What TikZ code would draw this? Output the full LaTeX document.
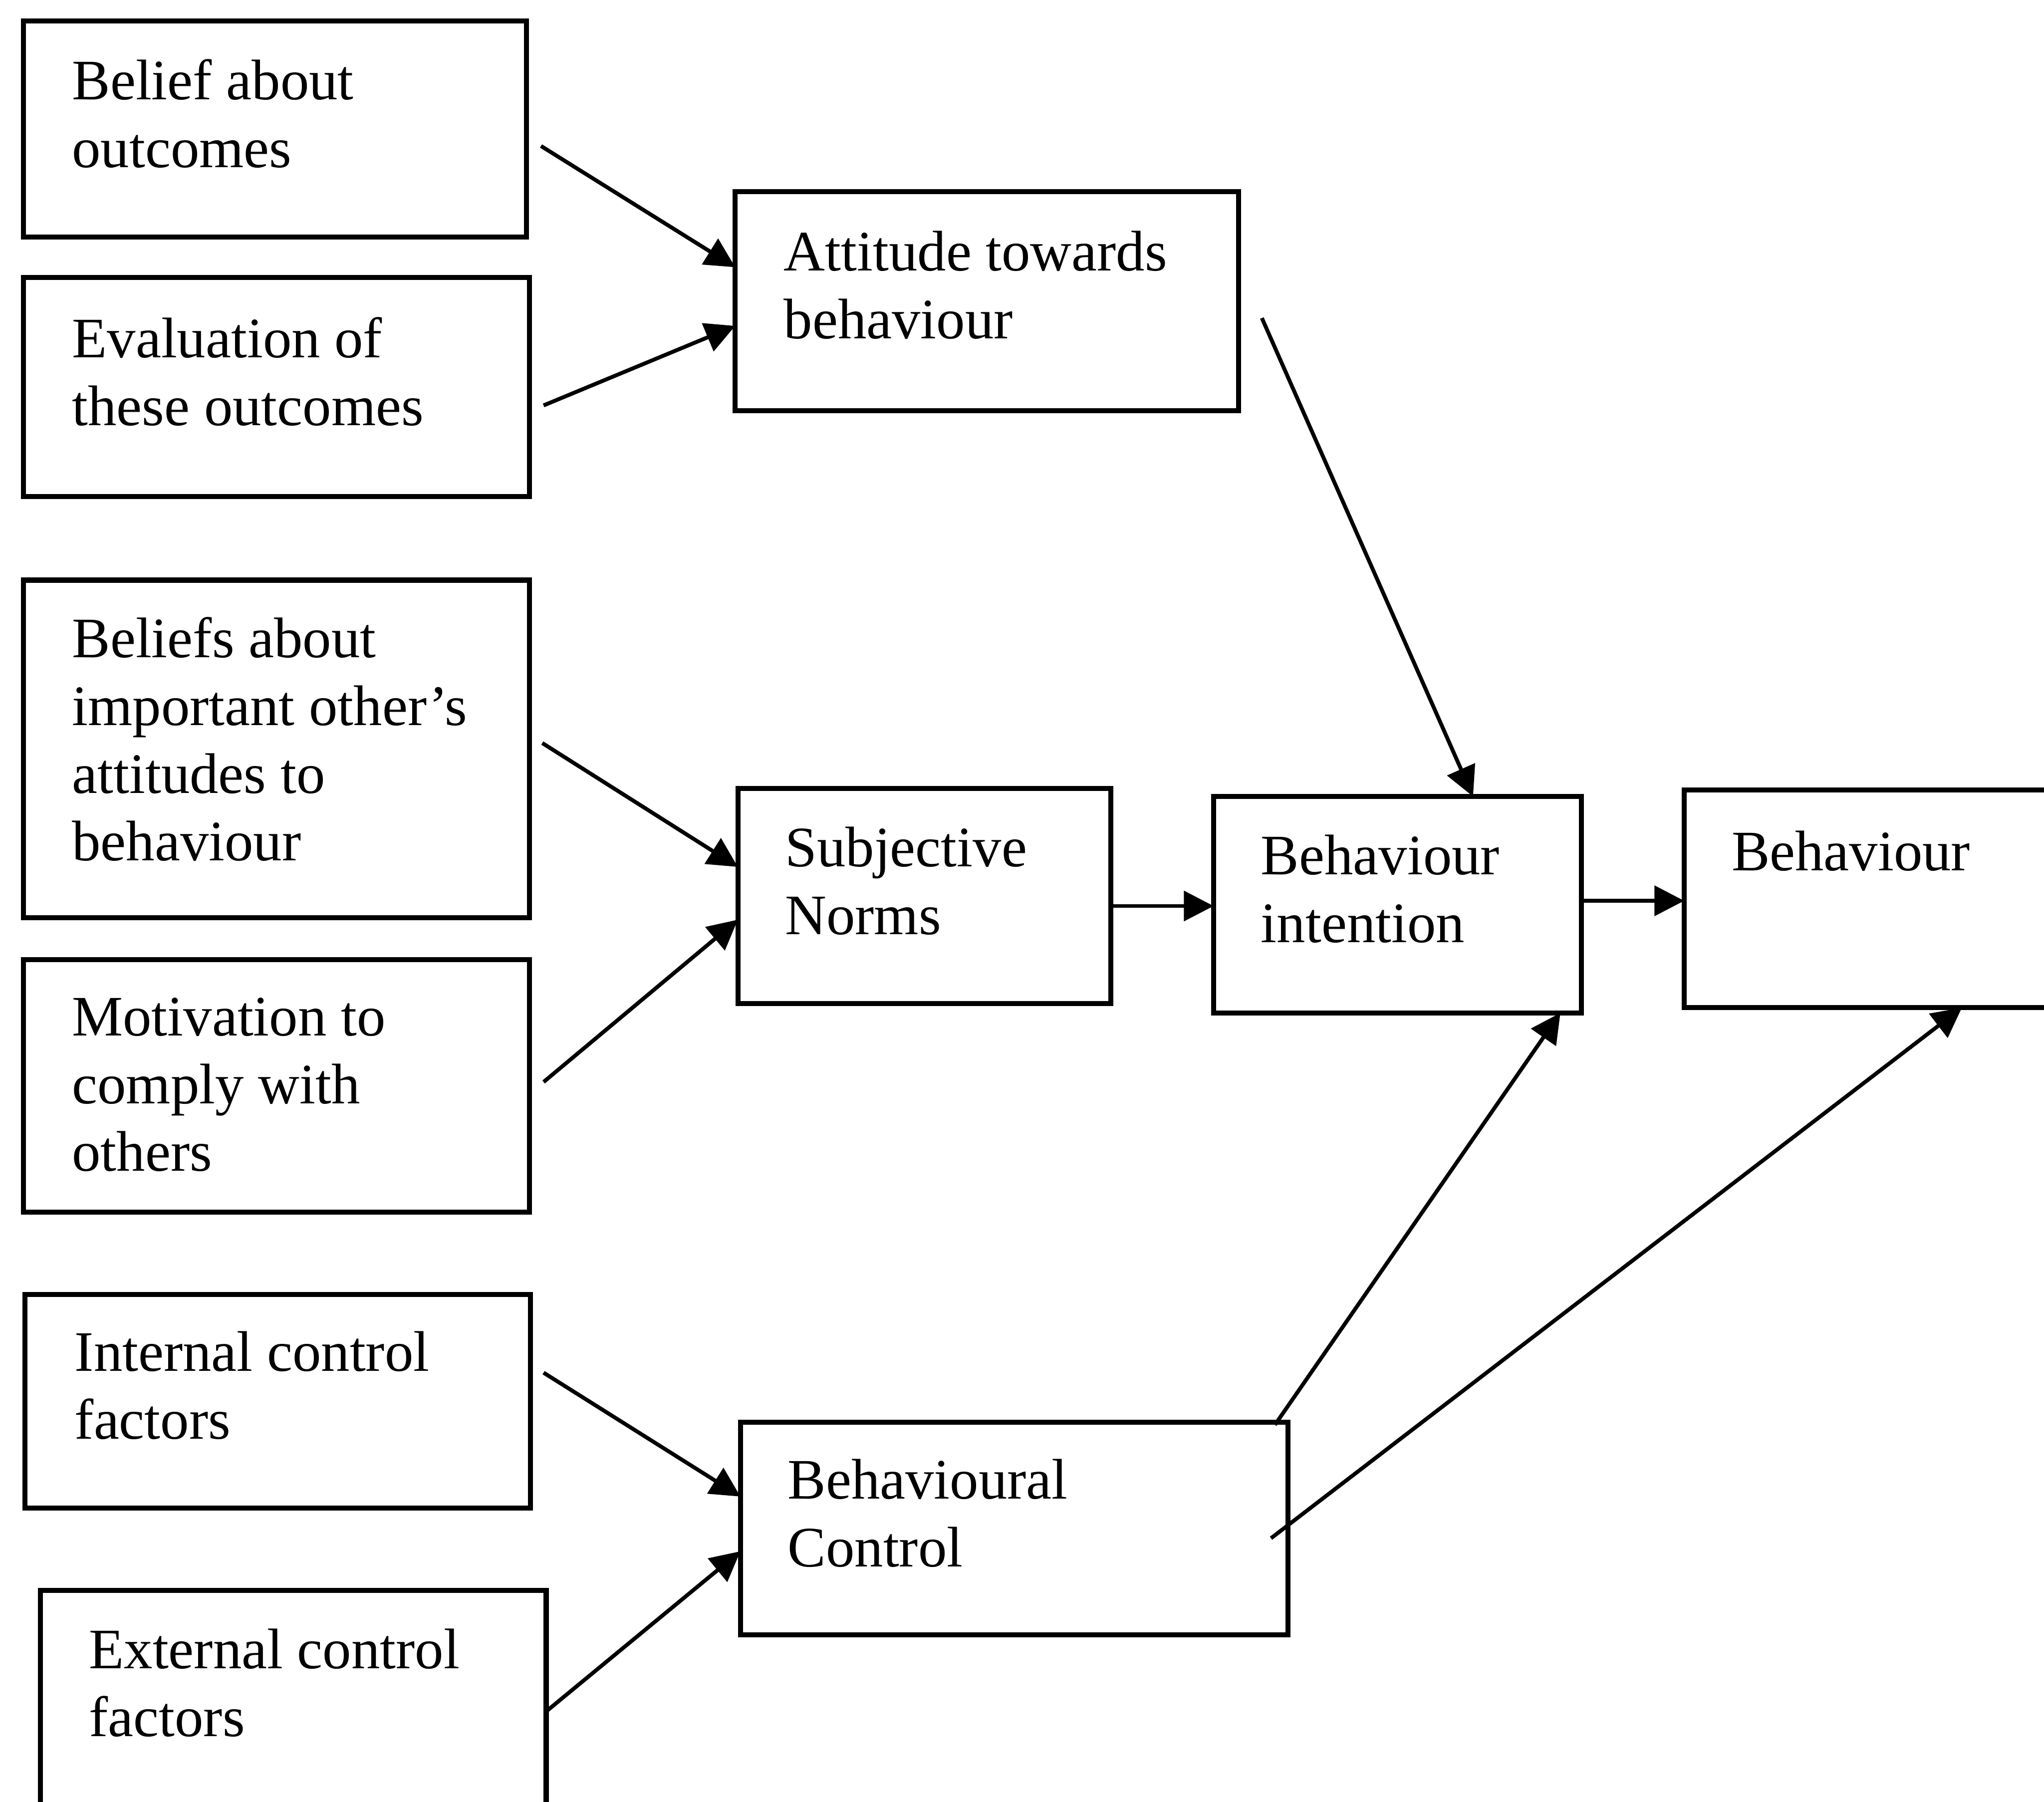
\documentclass[tikz,border=0pt]{standalone}
\usepackage{fontspec}
\setmainfont{Liberation Serif}
\usetikzlibrary{arrows.meta,calc,fit}
\begin{document}
\begin{tikzpicture}[x=0.02cm,y=-0.02cm,
  box/.style={draw, line width=2.2pt, inner sep=0pt, outer sep=0pt},
  txt/.style={anchor=north west, inner sep=0pt, align=left, font=\fontsize{25}{29.6}\selectfont},
  arr/.style={line width=1.7pt, -{Triangle[length=13pt,width=13pt]}}]
\useasboundingbox (0,0) rectangle (1568,1382);
\clip (0,0) rectangle (1568,1382);
\fill[white] (0,0) rectangle (1568,1382);
% boxes
\node[box, fit={(18,16) (404,182)}] (b1) {};
\node[box, fit={(18,213) (406,381)}] (b2) {};
\node[box, fit={(18,445) (406,704)}] (b3) {};
\node[box, fit={(18,736) (406,930)}] (b4) {};
\node[box, fit={(19,993) (407,1157)}] (b5) {};
\node[box, fit={(31,1220) (419,1440)}] (b6) {};
\node[box, fit={(564,147) (950,315)}] (a) {};
\node[box, fit={(566,605) (852,770)}] (s) {};
\node[box, fit={(568,1091) (988,1254)}] (c) {};
\node[box, fit={(931,611) (1213,777)}] (i) {};
\node[box, fit={(1292,606) (1640,773)}] (bh) {};
% texts
\node[txt] (t1) at (55,45) {Belief about\\outcomes};
\node[txt] (t2) at (55,243) {Evaluation of\\these outcomes};
\node[txt] (t3) at (55,473) {Beliefs about\\important other’s\\attitudes to\\behaviour};
\node[txt] (t4) at (55,765) {Motivation to\\comply with\\others};
\node[txt] (t5) at (57,1021) {Internal control\\factors};
\node[txt] (t6) at (68,1249) {External control\\factors};
\node[txt] (ta) at (601,177) {Attitude towards\\behaviour};
\node[txt] (ts) at (602,634) {Subjective\\Norms};
\node[txt] (tc) at (604,1119) {Behavioural\\Control};
\node[txt] (ti) at (967,640) {Behaviour\\intention};
\node[txt] (tb) at (1328,637) {Behaviour};
% connectors
\draw[arr] ($(b1.east)+(11,13)$) -- ($(a.west)+(0,-26)$);
\draw[arr] ($(b2.east)+(11,14)$) -- ($(a.west)+(0,19)$);
\draw[arr] ($(b3.east)+(10,-4.5)$) -- ($(s.west)+(0,-22.5)$);
\draw[arr] ($(b4.east)+(11,-3)$) -- ($(s.west)+(0,18)$);
\draw[arr] ($(b5.east)+(10,-22)$) -- ($(c.west)+(0,-24.5)$);
\draw[arr] ($(b6.north east)+(1,92)$) -- ($(c.west)+(0,17.5)$);
\draw[arr] ($(a.east)+(18,13)$) -- ($(i.north)+(58,0)$);
\draw[arr] ($(s.east)+(2,7.5)$) -- ($(i.west)+(0,1)$);
\draw[arr] ($(i.east)+(2,-3)$) -- ($(bh.west)+(0,1.5)$);
\draw[arr] ($(c.north east)+(-10,2)$) -- ($(i.south)+(125,0)$);
\draw[arr] ($(c.east)+(-13,7.5)$) -- ($(bh.south)+(39,0)$);
\end{tikzpicture}
\end{document}
